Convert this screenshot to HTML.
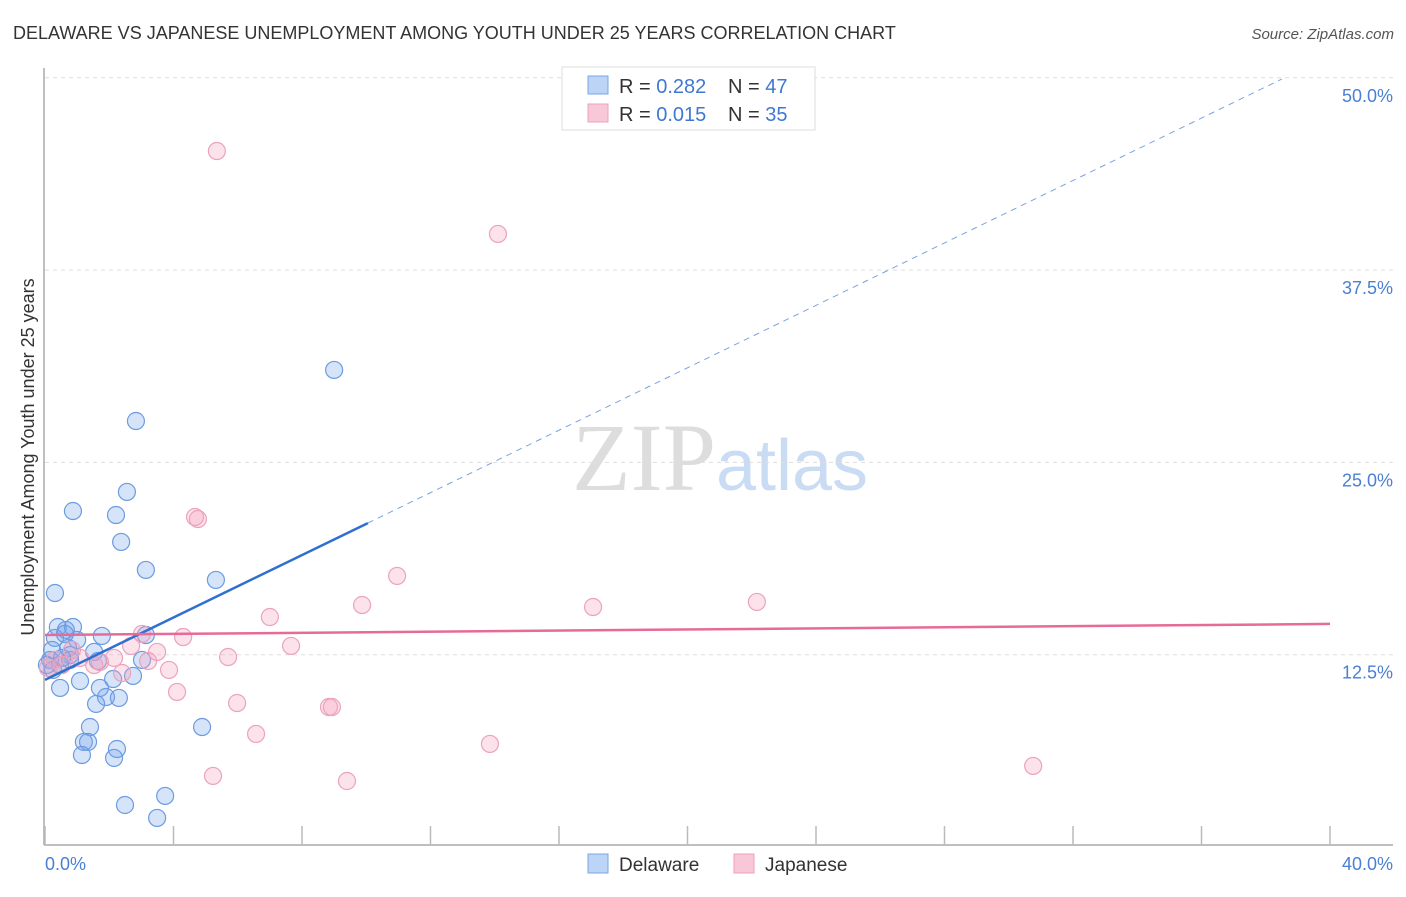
<!DOCTYPE html>
<html><head><meta charset="utf-8"><style>
body{margin:0;background:#fff;font-family:"Liberation Sans",sans-serif}
</style></head><body>
<svg id="chart" width="1406" height="892" xmlns="http://www.w3.org/2000/svg" font-family="Liberation Sans, sans-serif">
<text x="13" y="39" font-size="18" fill="#333">DELAWARE VS JAPANESE UNEMPLOYMENT AMONG YOUTH UNDER 25 YEARS CORRELATION CHART</text>
<text x="1394" y="39" font-size="15" fill="#555" text-anchor="end" font-style="italic">Source: ZipAtlas.com</text>
<text x="720" y="490" font-size="96" text-anchor="middle"><tspan fill="#ddd" font-family="Liberation Serif, serif">ZIP</tspan><tspan fill="#c9dcf3" font-size="72">atlas</tspan></text>
<g id="grid"></g>
<g id="axes"></g>
<g id="marks"></g>
<text transform="translate(34,457) rotate(-90)" font-size="18" fill="#333" text-anchor="middle">Unemployment Among Youth under 25 years</text>
<text x="45" y="870" font-size="18" fill="#4a7fd4">0.0%</text>
<text x="1393" y="870" font-size="18" fill="#4a7fd4" text-anchor="end">40.0%</text>
<g>
<rect x="562" y="67" width="253" height="63" fill="#fff" stroke="#ddd"/>
<rect x="588" y="76" width="20" height="18" fill="#bcd4f5" stroke="#7aa6e6"/>
<rect x="588" y="104" width="20" height="18" fill="#f9c8d8" stroke="#eba3bd"/>
<text x="619" y="93" font-size="20" fill="#333">R = <tspan fill="#3f78d2">0.282</tspan></text>
<text x="728" y="93" font-size="20" fill="#333">N = <tspan fill="#3f78d2">47</tspan></text>
<text x="619" y="121" font-size="20" fill="#333">R = <tspan fill="#3f78d2">0.015</tspan></text>
<text x="728" y="121" font-size="20" fill="#333">N = <tspan fill="#3f78d2">35</tspan></text>
</g>
<g>
<rect x="588" y="854" width="20" height="19" fill="#bcd4f5" stroke="#7aa6e6"/>
<text x="619" y="871" font-size="19" fill="#333">Delaware</text>
<rect x="734" y="854" width="20" height="19" fill="#f9c8d8" stroke="#eba3bd"/>
<text x="765" y="871" font-size="19" fill="#333">Japanese</text>
</g>
</svg>
<script>
const blueX=[0.31,0.87,2.55,2.83,2.21,2.37,3.14,5.32,9.00,0.40,0.65,0.87,1.77,1.00,0.31,0.22,0.72,0.78,1.53,0.16,1.65,0.47,0.25,1.09,0.47,1.71,2.74,3.02,3.14,2.12,1.90,2.30,1.59,1.40,1.21,1.34,1.15,2.24,2.15,4.89,3.74,2.49,3.49,0.62,0.78,0.06,0.53];
const blueY=[16.51,21.84,23.08,27.69,21.58,19.83,18.01,17.36,31.01,14.30,14.11,14.30,13.72,13.46,13.59,12.81,12.94,12.48,12.68,12.16,12.09,11.83,11.51,10.79,10.34,10.34,11.12,12.16,13.78,10.92,9.75,9.69,9.30,7.80,6.83,6.83,5.98,6.37,5.79,7.80,3.32,2.73,1.89,13.85,12.16,11.83,12.29];
const pinkX=[5.35,14.10,4.67,4.76,10.96,9.87,17.06,22.16,7.00,7.66,4.30,3.02,3.49,2.68,2.15,1.53,3.21,3.86,5.70,2.40,4.11,5.98,8.84,8.93,6.57,13.85,5.23,9.40,30.76,0.53,0.31,0.09,1.09,1.71,0.84];
const pinkY=[45.24,39.85,21.45,21.32,17.62,15.73,15.60,15.93,14.95,13.07,13.65,13.85,12.68,13.07,12.29,11.83,12.09,11.51,12.35,11.31,10.08,9.36,9.10,9.10,7.35,6.70,4.62,4.29,5.27,11.83,12.16,11.64,12.29,12.03,12.81];
const yTicks=[12.5,25,37.5,50];
const yTickLabels=["12.5%","25.0%","37.5%","50.0%"];
const xTicks=[0,4,8,12,16,20,24,28,32,36,40];
const blueTrend=[10.86,51.44];const blueSolidEnd=10.05;
const pinkTrend=[13.78,14.50];

const NS="http://www.w3.org/2000/svg";
const sx=v=>45+v/40*1285;
const sy=v=>847-v/12.5*192.3;
function mk(tag,attrs,parent){const e=document.createElementNS(NS,tag);for(const k in attrs)e.setAttribute(k,attrs[k]);document.getElementById(parent).appendChild(e);return e;}
yTicks.forEach((t,i)=>{
  const l=mk('line',{x1:45,x2:1393,y1:sy(t),y2:sy(t),stroke:'#ddd','stroke-dasharray':'4,4'},'grid');
  
  
  const tx=mk('text',{x:1393,y:sy(t)+24,'font-size':18,fill:'#4a7fd4','text-anchor':'end'},'grid');
  tx.textContent=yTickLabels[i];
  
  
});
const ax1=mk('line',{x1:44,x2:44,y1:68,y2:845,stroke:'#aaa','stroke-width':1.5},'axes');


const ax2=mk('line',{x1:44,x2:1393,y1:845,y2:845,stroke:'#aaa','stroke-width':1.5},'axes');


xTicks.forEach(t=>{
  const l=mk('line',{x1:sx(t),x2:sx(t),y1:826,y2:845,stroke:'#bbb','stroke-width':1.5},'axes');
  
  
});
blueX.forEach((x,i)=>{
  const c=mk('circle',{cx:sx(x),cy:sy(blueY[i]),r:8.5,fill:'rgba(120,165,235,0.3)',stroke:'#6b9be0','stroke-width':1.2},'marks');
  
  
});
pinkX.forEach((x,i)=>{
  const c=mk('circle',{cx:sx(x),cy:sy(pinkY[i]),r:8.5,fill:'rgba(245,160,190,0.3)',stroke:'#eca2bd','stroke-width':1.2},'marks');
  
  
});
const by=x=>blueTrend[0]+(blueTrend[1]-blueTrend[0])*x/40;
const bl=mk('line',{x1:sx(0),y1:sy(by(0)),x2:sx(blueSolidEnd),y2:sy(by(blueSolidEnd)),stroke:'#2f6fd0','stroke-width':2.5},'marks');


const bd=mk('line',{x1:sx(blueSolidEnd),y1:sy(by(blueSolidEnd)),x2:sx(38.5),y2:sy(by(38.5)),stroke:'#7aa3e0','stroke-width':1,'stroke-dasharray':'6,5'},'marks');


const pl=mk('line',{x1:sx(0),y1:sy(pinkTrend[0]),x2:sx(40),y2:sy(pinkTrend[1]),stroke:'#e66b98','stroke-width':2.5},'marks');


</script>
</body></html>
